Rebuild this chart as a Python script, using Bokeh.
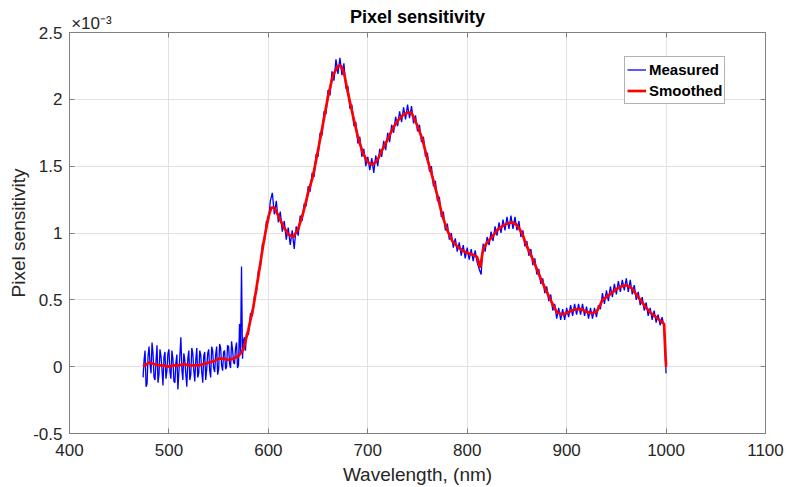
from bokeh.plotting import figure
from bokeh.models import (LinearAxis, FixedTicker, Legend, LegendItem, Range1d)
from bokeh.embed import file_html
from bokeh.resources import INLINE

# ---------------- data (pixel sensitivity in units of 1e-3) ----------------
title_text = "Pixel sensitivity"
x_label = "Wavelength, (nm)"
y_label = "Pixel sensitivity"
y_multiplier = "\u00d710\u207b\u00b3"
y_multiplier_at = 422   # wavelength over which the multiplier is written

x_ticks = [400, 500, 600, 700, 800, 900, 1000, 1100]
y_ticks = [-0.5, 0, 0.5, 1, 1.5, 2, 2.5]
y_tick_labels = ["-0.5", "0", "0.5", "1", "1.5", "2", "2.5"]

# measured, noisy part: one value every 1 nm from 474 nm to 578 nm
measured_low_start = 474
measured_low = [
    -0.08, 0.05, 0.12, -0.15, -0.13, 0.08,                               # 474-479
    0.15, 0.02, -0.05, 0.18, 0.10, -0.08, -0.10, 0.04, 0.16, -0.12,      # 480-489
    -0.06, 0.13, 0.08, -0.02, -0.14, 0.07, 0.11, -0.09, -0.03, 0.10,     # 490-499
    0.13, -0.04, -0.09, 0.12, 0.06, -0.11, -0.12, 0.03, 0.09, -0.17,     # 500-509
    -0.04, 0.08, 0.22, -0.02, -0.10, 0.10, 0.05, -0.06, -0.15, 0.06,     # 510-519
    0.12, -0.10, -0.06, 0.14, 0.10, -0.03, -0.11, 0.05, 0.14, -0.08,     # 520-529
    -0.05, 0.12, 0.09, -0.04, -0.12, 0.08, 0.11, -0.10, -0.02, 0.10,     # 530-539
    0.13, -0.03, -0.08, 0.15, 0.12, -0.01, -0.04, 0.09, 0.15, -0.06,     # 540-549
    -0.02, 0.17, 0.14, 0.01, -0.03, 0.11, 0.12, -0.02, 0.00, 0.16,       # 550-559
    0.15, 0.02, -0.01, 0.19, 0.13, 0.03, 0.02, 0.14, 0.18, -0.01,        # 560-569
    0.01, 0.32, 0.10, 0.75, 0.06, 0.20, 0.22, 0.12, 0.25,                # 570-578
]
# measured, rest: one value every 2 nm from 580 nm to 1000 nm
measured_high_start = 580
measured_high = [
    0.24, 0.40, 0.38, 0.53, 0.55, 0.72, 0.74, 0.92, 0.93, 1.09,           # 580-598
    1.08, 1.24, 1.30, 1.14, 1.24, 1.08, 1.16, 1.01, 1.09, 0.95,           # 600-618
    1.04, 0.91, 1.02, 0.88, 1.05, 0.98, 1.13, 1.09, 1.22, 1.20,           # 620-638
    1.35, 1.31, 1.45, 1.42, 1.59, 1.57, 1.75, 1.73, 1.91, 1.89,           # 640-658
    2.07, 2.03, 2.21, 2.14, 2.30, 2.19, 2.31, 2.18, 2.27, 2.08,           # 660-678
    2.10, 1.93, 1.96, 1.80, 1.83, 1.67, 1.72, 1.57, 1.63, 1.50,           # 680-698
    1.57, 1.47, 1.56, 1.45, 1.58, 1.50, 1.63, 1.57, 1.69, 1.62,           # 700-718
    1.75, 1.68, 1.81, 1.75, 1.87, 1.80, 1.91, 1.83, 1.94, 1.85,           # 720-738
    1.96, 1.86, 1.95, 1.82, 1.88, 1.76, 1.81, 1.68, 1.72, 1.57,           # 740-758
    1.60, 1.46, 1.50, 1.35, 1.39, 1.24, 1.27, 1.12, 1.16, 1.02,           # 760-778
    1.07, 0.95, 1.00, 0.89, 0.96, 0.86, 0.93, 0.83, 0.91, 0.81,           # 780-798
    0.89, 0.80, 0.88, 0.79, 0.87, 0.78, 0.73, 0.69, 0.92, 0.86,           # 800-818
    0.97, 0.91, 1.01, 0.94, 1.05, 0.98, 1.08, 1.00, 1.10, 1.02,           # 820-838
    1.12, 1.03, 1.13, 1.03, 1.12, 1.02, 1.09, 0.97, 1.02, 0.90,           # 840-858
    0.94, 0.83, 0.88, 0.76, 0.81, 0.69, 0.73, 0.62, 0.66, 0.55,           # 860-878
    0.60, 0.49, 0.54, 0.42, 0.47, 0.36, 0.44, 0.35, 0.43, 0.35,           # 880-898
    0.44, 0.37, 0.46, 0.38, 0.47, 0.39, 0.47, 0.39, 0.47, 0.38,           # 900-918
    0.45, 0.36, 0.44, 0.36, 0.44, 0.37, 0.46, 0.43, 0.55, 0.47,           # 920-938
    0.57, 0.49, 0.60, 0.52, 0.62, 0.54, 0.64, 0.56, 0.65, 0.57,           # 940-958
    0.66, 0.56, 0.65, 0.54, 0.61, 0.50, 0.56, 0.46, 0.52, 0.42,           # 960-978
    0.48, 0.38, 0.44, 0.35, 0.42, 0.33, 0.39, 0.31, 0.37, 0.30,           # 980-998
    -0.05,                                                               # 1000
]
measured_wl = ([measured_low_start + i for i in range(len(measured_low))]
               + [measured_high_start + 2 * i for i in range(len(measured_high))])
measured = measured_low + measured_high

smoothed_wl = [
    474, 480, 485, 490, 495, 500, 505, 510, 515, 520, 525, 530, 535, 540,
    545, 550, 555, 560, 565, 570, 575, 580, 585, 590, 595, 600, 603, 606,
    610, 615, 620, 625, 630, 635, 640, 645, 650, 655, 660, 665, 670, 673,
    676, 680, 685, 690, 695, 700, 705, 710, 715, 720, 725, 730, 735, 740,
    744, 750, 755, 760, 765, 770, 775, 780, 785, 790, 795, 800, 805, 810,
    813, 816, 820, 825, 830, 835, 840, 845, 850, 855, 860, 865, 870, 875,
    880, 885, 890, 895, 900, 905, 910, 915, 920, 925, 930, 933, 936, 940,
    945, 950, 955, 960, 965, 970, 975, 980, 985, 990, 995, 998, 999, 1000,
]
smoothed = [
    0.00, 0.03, 0.02, 0.01, 0.01, 0.00, 0.01, 0.01, 0.02, 0.01, 0.01, 0.01, 0.02, 0.03,
    0.04, 0.06, 0.06, 0.05, 0.06, 0.08, 0.13, 0.28, 0.45, 0.68, 0.92, 1.12, 1.19, 1.19,
    1.13, 1.05, 0.99, 0.97, 1.03, 1.15, 1.30, 1.43, 1.62, 1.82, 2.02, 2.18, 2.25, 2.25,
    2.20, 2.05, 1.88, 1.72, 1.60, 1.53, 1.51, 1.55, 1.63, 1.70, 1.78, 1.84, 1.88, 1.90,
    1.90, 1.80, 1.70, 1.55, 1.42, 1.28, 1.13, 1.02, 0.94, 0.90, 0.87, 0.85, 0.84, 0.82,
    0.74, 0.88, 0.93, 0.97, 1.02, 1.05, 1.07, 1.08, 1.06, 1.00, 0.90, 0.82, 0.73, 0.64,
    0.56, 0.48, 0.41, 0.39, 0.40, 0.42, 0.43, 0.43, 0.41, 0.40, 0.41, 0.45, 0.50, 0.52,
    0.55, 0.58, 0.60, 0.61, 0.59, 0.54, 0.49, 0.44, 0.40, 0.37, 0.34, 0.32, 0.15, 0.00,
]

series_names = ["Measured", "Smoothed"]
series_colors = ["#0000ff", "#ff0000"]

# ---------------- figure ----------------
FONT = "Liberation Sans"
AXIS_COL = "#808080"
TEXT_COL = "#262626"

p = figure(frame_width=696, frame_height=401,
           x_range=Range1d(400, 1100), y_range=Range1d(-0.5, 2.5),
           output_backend="svg", toolbar_location=None,
           min_border_left=69, min_border_right=23,
           min_border_top=32, min_border_bottom=54,
           background_fill_color="white", border_fill_color="white")

p.outline_line_color = AXIS_COL

r_meas = p.line(measured_wl, measured, line_color=series_colors[0], line_width=1.3)
r_smooth = p.line(smoothed_wl, smoothed, line_color=series_colors[1], line_width=2.7)

for ax in (p.xaxis[0], p.yaxis[0]):
    ax.axis_line_color = AXIS_COL
    ax.major_tick_line_color = AXIS_COL
    ax.major_tick_in = 5
    ax.major_tick_out = 0
    ax.minor_tick_line_color = None
    ax.major_label_text_font = FONT
    ax.major_label_text_font_size = "17px"
    ax.major_label_text_color = TEXT_COL
    ax.axis_label_text_font = FONT
    ax.axis_label_text_font_size = "19px"
    ax.axis_label_text_font_style = "normal"
    ax.axis_label_text_color = TEXT_COL

p.xaxis.ticker = FixedTicker(ticks=x_ticks)
p.yaxis.ticker = FixedTicker(ticks=y_ticks)
p.yaxis.major_label_overrides = {t: s for t, s in zip(y_ticks, y_tick_labels)}
p.xaxis.axis_label = x_label
p.yaxis.axis_label = y_label
p.xaxis.major_label_standoff = 10
p.yaxis.major_label_standoff = 7
p.xaxis.axis_label_standoff = 5
p.yaxis.axis_label_standoff = 1

# right and top axes: tick marks only (box style)
right_ax = LinearAxis(ticker=FixedTicker(ticks=y_ticks))
top_ax = LinearAxis(ticker=FixedTicker(ticks=x_ticks))
for ax in (right_ax, top_ax):
    ax.axis_line_color = AXIS_COL
    ax.major_tick_line_color = AXIS_COL
    ax.major_tick_in = 5
    ax.major_tick_out = 0
    ax.minor_tick_line_color = None
    ax.major_label_text_font_size = "0px"
    ax.major_label_text_color = None
    ax.major_label_standoff = 0
p.add_layout(right_ax, "right")
p.add_layout(top_ax, "above")

# header axis: x10^-3 multiplier at the top-left and the chart title
head_ax = LinearAxis(ticker=FixedTicker(ticks=[y_multiplier_at]))
head_ax.major_label_overrides = {y_multiplier_at: y_multiplier}
head_ax.axis_line_color = None
head_ax.major_tick_line_color = None
head_ax.minor_tick_line_color = None
head_ax.major_tick_in = 0
head_ax.major_tick_out = 0
head_ax.major_label_text_font = FONT
head_ax.major_label_text_font_size = "17px"
head_ax.major_label_text_color = TEXT_COL
head_ax.major_label_standoff = 0
head_ax.axis_label = title_text
head_ax.axis_label_text_font = FONT
head_ax.axis_label_text_font_size = "18px"
head_ax.axis_label_text_font_style = "bold"
head_ax.axis_label_text_color = "#000000"
head_ax.axis_label_standoff = -16
p.add_layout(head_ax, "above")

p.xgrid.ticker = FixedTicker(ticks=x_ticks)
p.ygrid.ticker = FixedTicker(ticks=y_ticks)
p.grid.grid_line_color = "#e2e2e2"
p.grid.grid_line_width = 1

legend = Legend(items=[LegendItem(label=series_names[0], renderers=[r_meas]),
                       LegendItem(label=series_names[1], renderers=[r_smooth])],
                location=(555, 329))
legend.label_text_font = FONT
legend.label_text_font_size = "15px"
legend.label_text_font_style = "bold"
legend.label_text_color = "#000000"
legend.border_line_color = "#666666"
legend.border_line_width = 1
legend.background_fill_alpha = 1
legend.padding = 2
legend.spacing = 0
legend.margin = 0
legend.glyph_width = 19
legend.glyph_height = 21
legend.label_height = 21
legend.label_standoff = 3
p.add_layout(legend)

open("out.html", "w").write(file_html(p, INLINE))
